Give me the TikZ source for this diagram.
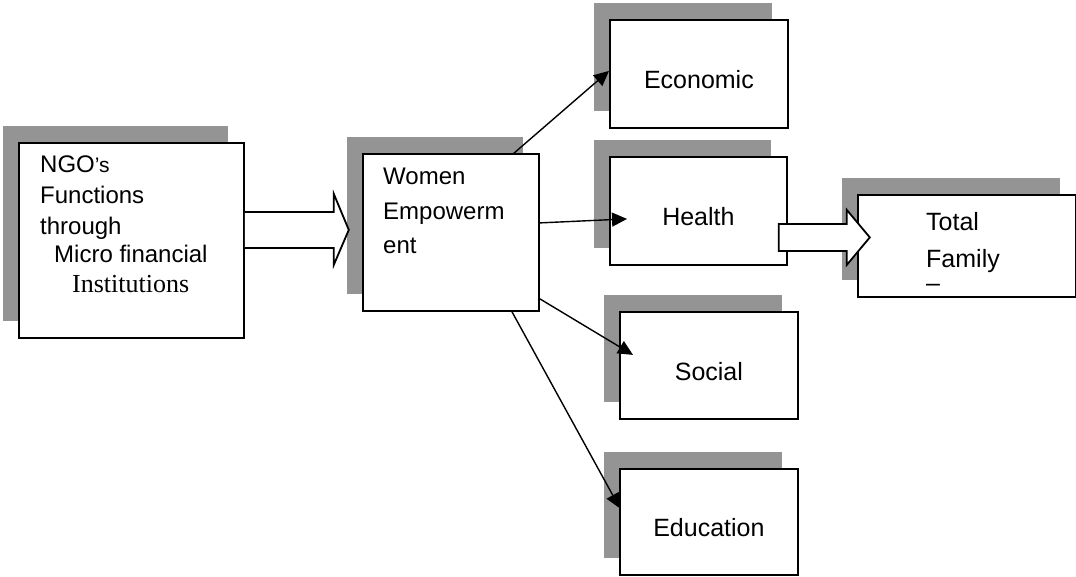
\documentclass[tikz,border=0pt]{standalone}
\usepackage{fontspec}
\setmainfont{Liberation Sans}
\newfontfamily\timesfont{Liberation Serif}
\usetikzlibrary{shadows}
\usetikzlibrary{arrows.meta}

\begin{document}
\begin{tikzpicture}[x=1pt, y=-1pt, box/.style = {draw, fill=white, line width=1.8pt, inner sep=0pt, anchor=north west, text height=30pt, text depth=0pt, font=\fontsize{25}{30}\selectfont, general shadow={fill=black!42, shadow xshift=-16pt, shadow yshift=16.5pt}}, txt/.style = {inner sep=0pt, anchor=north west, align=left}, link/.style = {-{Triangle[length=15pt,width=14pt]}, line width=1.4pt}, fat/.style = {draw, fill=white, line width=1.8pt}]

    \useasboundingbox (0,0) rectangle (1076,576);

    \node at (18,142) [box, minimum width=225pt, minimum height=195pt] (ngo) {};
    \node at (362,153) [box, minimum width=176pt, minimum height=157pt] (women) {};
    \node at (609,19) [box, minimum width=178pt, minimum height=108pt] (econ) {Economic};
    \node at (609,156) [box, minimum width=177pt, minimum height=108pt] (health) {Health};
    \node at (857,194) [box, minimum width=218pt, minimum height=102pt] (family) {};
    \node at (619,311) [box, minimum width=178pt, minimum height=107pt] (social) {Social};
    \node at (619,468) [box, minimum width=178pt, minimum height=106pt] (edu) {Education};

    \node[txt, font=\fontsize{24}{31}\selectfont] at (40,156) (ngotext) {NGO{\fontsize{21}{21}\selectfont ’s}\\Functions\\through\\[-3pt]\hspace*{14pt}Micro financial\\[-1pt]\hspace*{32pt}{\timesfont\fontsize{26}{31}\selectfont Institutions}};
    \node[txt, font=\fontsize{24}{34.5}\selectfont] at (383,168) (womentext) {Women\\Empowerm\\ent};

    %NGO to Women
    \coordinate (t1) at ([shift={(0,-10.5)}]ngo.east);
    \draw[fat] (t1) ++(0,-18) -- ++(89,0) -- ++(0,-18) -- ++(15,36) -- ++(-15,35) -- ++(0,-17) -- ++(-89,0);

    %Women to the four boxes
    \draw[link] ([shift={(151,1)}]women.north west) -- ([shift={(0,-3)}]econ.west);
    \draw[link] ([shift={(0,-9.5)}]women.east) -- ([shift={(18,8)}]health.west);
    \draw[link] ([shift={(0,-13)}]women.south east) -- ([shift={(14,-10.5)}]social.west);
    \draw[link] ([shift={(150,0)}]women.south west) -- ([shift={(1,-13.5)}]edu.west);

    %Health to Family
    \coordinate (t2) at ([shift={(-9,26.5)}]health.east);
    \draw[fat] (t2) ++(0,-13.5) -- ++(68,0) -- ++(0,-14) -- ++(23,27.5) -- ++(-23,27.5) -- ++(0,-14) -- ++(-68,0) -- cycle;

    \node[txt, font=\fontsize{25}{37}\selectfont] at (926,212) (familytext) {Total\\Family\\[-13pt]–};
\end{tikzpicture}
\end{document}
